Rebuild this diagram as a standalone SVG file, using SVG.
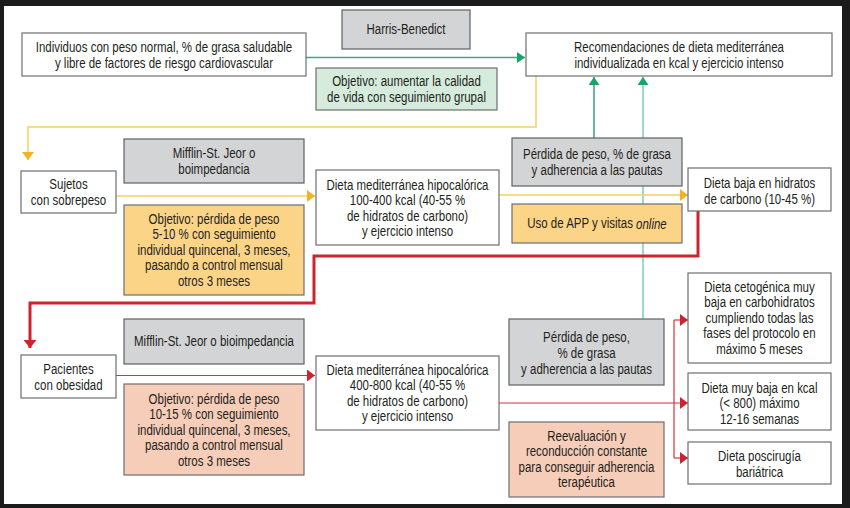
<svg xmlns="http://www.w3.org/2000/svg" width="850" height="508" viewBox="0 0 850 508">
<style>
  text { font-family: 'Liberation Sans', Arial, sans-serif; font-size: 14px; fill: #231f20; text-anchor: middle; dominant-baseline: central; }
  .box { stroke: #6d6e71; stroke-width: 1.2; }
  .white { fill: #ffffff; }
  .gray { fill: #d3d4d6; stroke: #5f6062; }
  .green { fill: #d5ecdd; }
  .orange { fill: #fcd488; }
  .pink { fill: #f6cdb9; }
  .yl { fill: none; stroke: #f9cf63; stroke-width: 1.5; }
  .rthick { fill: none; stroke: #d0222e; stroke-width: 3; }
  .rthin { fill: none; stroke: #d4323e; stroke-width: 1.2; }
  .tl { fill: none; stroke: #3fa88c; stroke-width: 1.3; }
  .tdark { fill: none; stroke: #34a182; stroke-width: 1.5; }
  .tlight { fill: none; stroke: #8fd6c2; stroke-width: 1.8; }
</style>
<defs>
  <marker id="aY" markerUnits="userSpaceOnUse" markerWidth="8" markerHeight="12" refX="8" refY="6" orient="auto"><path d="M0,0 L8,6 L0,12 z" fill="#f6b024"/></marker>
  <marker id="aR" markerUnits="userSpaceOnUse" markerWidth="8" markerHeight="12" refX="8" refY="6" orient="auto"><path d="M0,0 L8,6 L0,12 z" fill="#d0222e"/></marker>
  <marker id="aRb" markerUnits="userSpaceOnUse" markerWidth="8" markerHeight="13" refX="8" refY="6.5" orient="auto"><path d="M0,0 L8,6.5 L0,13 z" fill="#d0222e"/></marker>
  <marker id="aG" markerUnits="userSpaceOnUse" markerWidth="8" markerHeight="11" refX="8" refY="5.5" orient="auto"><path d="M0,0 L8,5.5 L0,11 z" fill="#17a36c"/></marker>
</defs>
<rect x="0" y="0" width="850" height="508" fill="#1b1b1b"/>
<rect x="4" y="6" width="838" height="498" fill="#ffffff"/>

<g id="connectors">
  <path class="tl" d="M306,57.5 H525" marker-end="url(#aG)"/>
  <path class="tdark" d="M594,138 V77" marker-end="url(#aG)"/>
  <path class="tlight" d="M643,319 V77" marker-end="url(#aG)"/>
  <path class="yl" d="M536,76 V127 H28 V160" marker-end="url(#aY)"/>
  <path class="yl" d="M116,196 H315" marker-end="url(#aY)"/>
  <path class="yl" d="M499,195 H688" marker-end="url(#aY)"/>
  <path class="rthick" d="M698,211 V256 H314 V303 H30 V348" marker-end="url(#aRb)"/>
  <path class="rthin" d="M116,375.5 H315" marker-end="url(#aR)"/>
  <path class="rthin" d="M499,403 H688" marker-end="url(#aR)"/>
  <path class="rthin" d="M674,320 V458"/>
  <path class="rthin" d="M674,320 H688" marker-end="url(#aR)"/>
  <path class="rthin" d="M674,458 H688" marker-end="url(#aR)"/>
</g>

<g id="harris">
  <rect class="box gray" x="342" y="10" width="128" height="39"/>
  <g transform="translate(406 0) scale(0.82 1)"><text y="29.5">Harris-Benedict</text></g>
</g>
<g id="individuos">
  <rect class="box white" x="22" y="33" width="284" height="43"/>
  <g transform="translate(164 0) scale(0.82 1)">
    <text y="47">Individuos con peso normal, % de grasa saludable</text>
    <text y="63">y libre de factores de riesgo cardiovascular</text>
  </g>
</g>
<g id="objetivo-calidad">
  <rect class="box green" x="316" y="68" width="181" height="42"/>
  <g transform="translate(406.5 0) scale(0.82 1)">
    <text y="81.5">Objetivo: aumentar la calidad</text>
    <text y="97">de vida con seguimiento grupal</text>
  </g>
</g>
<g id="recomendaciones">
  <rect class="box white" x="526" y="33" width="306" height="43"/>
  <g transform="translate(679 0) scale(0.82 1)">
    <text y="47">Recomendaciones de dieta mediterránea</text>
    <text y="63">individualizada en kcal y ejercicio intenso</text>
  </g>
</g>

<g id="sujetos">
  <rect class="box white" x="21" y="171" width="95" height="42"/>
  <g transform="translate(68.5 0) scale(0.82 1)">
    <text y="184">Sujetos</text>
    <text y="200">con sobrepeso</text>
  </g>
</g>
<g id="mifflin1">
  <rect class="box gray" x="124" y="139" width="180" height="44"/>
  <g transform="translate(214 0) scale(0.82 1)">
    <text y="153">Mifflin-St. Jeor o</text>
    <text y="169">boimpedancia</text>
  </g>
</g>
<g id="objetivo-sobrepeso">
  <rect class="box orange" x="124" y="205" width="180" height="90"/>
  <g transform="translate(214 0) scale(0.82 1)">
    <text y="219">Objetivo: pérdida de peso</text>
    <text y="234.5">5-10 % con seguimiento</text>
    <text y="250">individual quincenal, 3 meses,</text>
    <text y="265.5">pasando a control mensual</text>
    <text y="281">otros 3 meses</text>
  </g>
</g>
<g id="dieta1">
  <rect class="box white" x="316" y="170" width="183" height="75"/>
  <g transform="translate(407.5 0) scale(0.82 1)">
    <text y="185">Dieta mediterránea hipocalórica</text>
    <text y="200.5">100-400 kcal (40-55 %</text>
    <text y="216">de hidratos de carbono)</text>
    <text y="231.5">y ejercicio intenso</text>
  </g>
</g>
<g id="perdida1">
  <rect class="box gray" x="512" y="138" width="170" height="48"/>
  <g transform="translate(597 0) scale(0.82 1)">
    <text y="154.5">Pérdida de peso, % de grasa</text>
    <text y="170">y adherencia a las pautas</text>
  </g>
</g>
<g id="app">
  <rect class="box orange" x="512" y="204" width="170" height="39"/>
  <g transform="translate(597 0) scale(0.82 1)">
    <text y="223.5">Uso de APP y visitas <tspan font-style="italic">online</tspan></text>
  </g>
</g>
<g id="dieta-baja">
  <rect class="box white" x="688" y="168" width="143" height="43"/>
  <g transform="translate(759.5 0) scale(0.82 1)">
    <text y="183">Dieta baja en hidratos</text>
    <text y="199">de carbono (10-45 %)</text>
  </g>
</g>

<g id="pacientes">
  <rect class="box white" x="21" y="355" width="95" height="43"/>
  <g transform="translate(68.5 0) scale(0.82 1)">
    <text y="369">Pacientes</text>
    <text y="385">con obesidad</text>
  </g>
</g>
<g id="mifflin2">
  <rect class="box gray" x="124" y="319" width="180" height="45"/>
  <g transform="translate(214 0) scale(0.82 1)">
    <text y="341.5">Mifflin-St. Jeor o bioimpedancia</text>
  </g>
</g>
<g id="objetivo-obesidad">
  <rect class="box pink" x="124" y="384" width="180" height="91"/>
  <g transform="translate(214 0) scale(0.82 1)">
    <text y="399">Objetivo: pérdida de peso</text>
    <text y="414.5">10-15 % con seguimiento</text>
    <text y="430">individual quincenal, 3 meses,</text>
    <text y="445.5">pasando a control mensual</text>
    <text y="461">otros 3 meses</text>
  </g>
</g>
<g id="dieta2">
  <rect class="box white" x="316" y="356" width="183" height="74"/>
  <g transform="translate(407.5 0) scale(0.82 1)">
    <text y="370">Dieta mediterránea hipocalórica</text>
    <text y="385.5">400-800 kcal (40-55 %</text>
    <text y="401">de hidratos de carbono)</text>
    <text y="416.5">y ejercicio intenso</text>
  </g>
</g>
<g id="perdida2">
  <rect class="box gray" x="509" y="319" width="155" height="66"/>
  <g transform="translate(586.5 0) scale(0.82 1)">
    <text y="337">Pérdida de peso,</text>
    <text y="353">% de grasa</text>
    <text y="369">y adherencia a las pautas</text>
  </g>
</g>
<g id="reevaluacion">
  <rect class="box pink" x="509" y="422" width="155" height="75"/>
  <g transform="translate(586.5 0) scale(0.82 1)">
    <text y="436">Reevaluación y</text>
    <text y="451.5">reconducción constante</text>
    <text y="467">para conseguir adherencia</text>
    <text y="482.5">terapéutica</text>
  </g>
</g>
<g id="cetogenica">
  <rect class="box white" x="688" y="273" width="143" height="90"/>
  <g transform="translate(759.5 0) scale(0.82 1)">
    <text y="287">Dieta cetogénica muy</text>
    <text y="302.5">baja en carbohidratos</text>
    <text y="318">cumpliendo todas las</text>
    <text y="333.5">fases del protocolo en</text>
    <text y="349">máximo 5 meses</text>
  </g>
</g>
<g id="muy-baja">
  <rect class="box white" x="688" y="373" width="143" height="57"/>
  <g transform="translate(759.5 0) scale(0.82 1)">
    <text y="388">Dieta muy baja en kcal</text>
    <text y="403.5">(&lt; 800) máximo</text>
    <text y="419">12-16 semanas</text>
  </g>
</g>
<g id="poscirugia">
  <rect class="box white" x="688" y="442" width="143" height="42"/>
  <g transform="translate(759.5 0) scale(0.82 1)">
    <text y="456">Dieta poscirugía</text>
    <text y="472">bariátrica</text>
  </g>
</g>
</svg>
